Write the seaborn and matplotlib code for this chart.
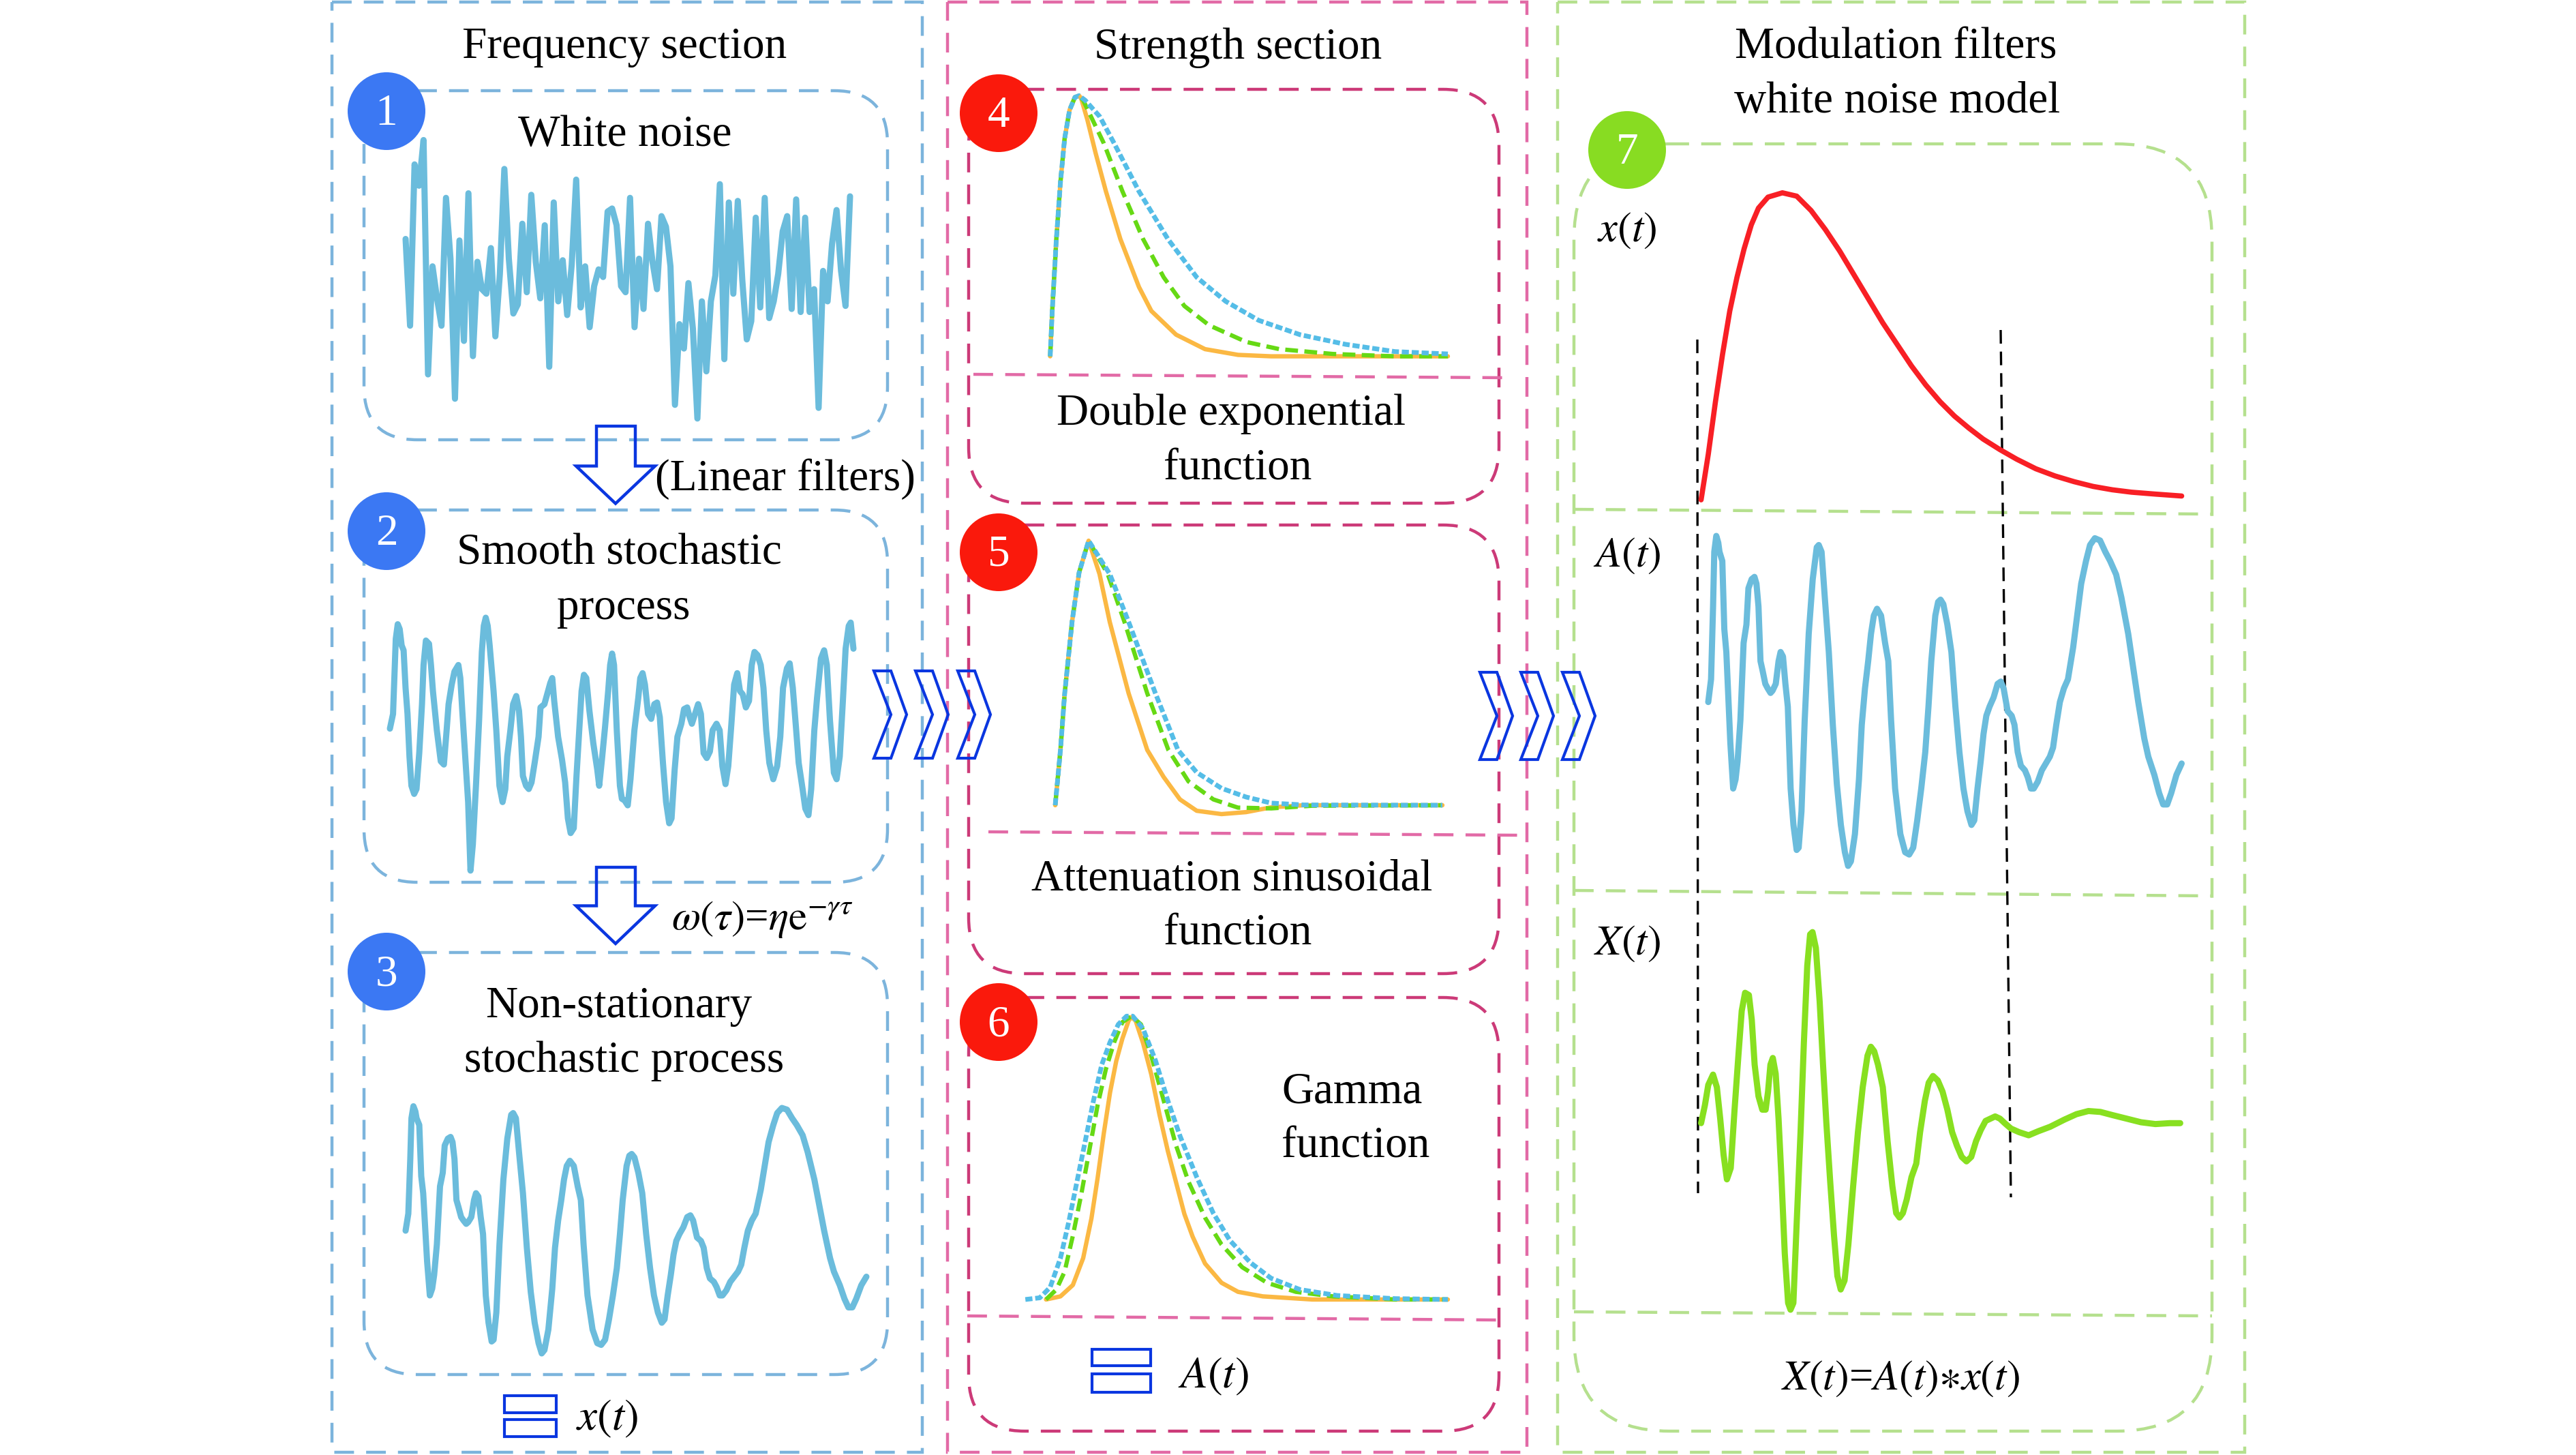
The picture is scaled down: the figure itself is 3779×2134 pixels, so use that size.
import numpy as np
import pandas as pd
import matplotlib
matplotlib.use("Agg")
import matplotlib.pyplot as plt
import seaborn as sns
from matplotlib.patches import FancyBboxPatch, Rectangle, Circle, Polygon

W, H = 3780, 2134

# ---------------- data ----------------
# 1: white noise, evenly spaced samples
white_noise = [1.15, -1.70, 3.60, 2.90, 4.40, -3.30, 0.25, -0.80, -1.70, 2.50,
               0.50, -4.10, 1.10, -2.20, 2.65, -2.70, 0.40, -0.50, -0.65, 0.85,
               -2.05, 0.00, 3.45, 0.50, -1.30, -1.00, 1.65, -0.60, 2.60, 0.40,
               -0.80, 1.60, -3.05, 2.35, -0.90, 0.45, -1.35, 0.30, 3.10, -1.10,
               0.25, -1.75, -0.40, 0.15, -0.10, 2.05, 2.15, 1.60, -0.40, -0.60,
               2.50, -1.75, 0.50, -1.15, 1.65, 0.40, -0.50, 1.90, 1.55, 0.25,
               -4.30, -1.65, -2.45, -0.30, -1.80, -4.75, -0.90, -3.20, -0.90, -0.05,
               2.95, -2.80, 2.35, -0.65, 2.40, -0.20, -2.15, -1.55, 1.85, -1.10,
               2.50, -1.45, -0.90, 0.00, 1.40, 1.90, -1.15, 2.45, -1.25, 1.85,
               -1.25, -0.50, -4.40, 0.10, -0.90, 1.00, 2.10, 0.10, -1.05, 2.55]

# 2: smooth stochastic process (t, value)
smooth_pts = [(0, 2.5), (8, 7), (12, 20), (15, 30), (20, 34.5), (25, 33), (30, 28), (35, 26.5), (40, 15),
              (45, 7), (50, -6), (55, -15), (62, -17.5), (68, -16), (75, -5), (82, 10), (86, 22), (92, 29.5),
              (100, 28.5), (105, 22), (110, 14), (120, 2), (130, -7.5), (138, -8.5), (145, 2), (150, 10),
              (158, 16), (165, 20), (175, 22), (180, 18), (185, 8), (192, -5), (200, -20), (206, -41),
              (212, -33), (220, -15), (228, 5), (235, 26), (240, 34), (245, 36.5), (250, 34), (255, 28),
              (265, 14), (272, 2), (280, -15), (288, -20), (295, -16), (300, -6), (308, 2), (315, 10),
              (323, 12.5), (330, 8), (335, 0), (340, -12), (348, -15), (355, -16), (362, -14), (370, -8),
              (380, 0), (385, 9), (395, 10), (402, 13), (410, 16.5), (415, 18), (420, 11), (430, 0),
              (440, -7), (448, -14), (455, -25), (462, -29.5), (470, -28), (477, -12), (485, 4), (490, 14),
              (496, 19), (502, 18), (510, 8), (520, -2), (530, -10), (535, -15), (542, -7), (550, 3),
              (558, 14), (563, 22), (568, 25.5), (573, 22), (580, 2), (588, -15), (593, -19), (600, -19.5),
              (608, -21), (615, -13), (625, 2), (635, 12), (640, 18), (646, 19.5), (652, 16), (660, 7),
              (668, 5.5), (676, 10), (683, 10.5), (690, 6), (698, -8), (706, -20), (714, -26.5), (720, -25),
              (728, -10), (735, 0), (745, 4), (752, 8.5), (760, 9), (765, 6.5), (772, 4), (780, 7), (788, 10),
              (795, 7), (802, -5), (810, -6.5), (818, -4.5), (825, 2), (835, 4), (843, 2), (850, -9),
              (858, -14.5), (865, -9), (873, 4), (880, 16), (888, 19.5), (895, 14), (902, 13), (910, 9),
              (918, 11), (925, 22), (932, 26), (940, 25), (948, 22), (955, 15), (962, 2), (970, -8),
              (980, -13), (990, -9), (998, 0), (1005, 15), (1015, 21), (1022, 22.5), (1030, 15), (1038, 3),
              (1045, -8), (1055, -16), (1062, -22), (1070, -24), (1077, -16), (1085, 2), (1092, 12),
              (1102, 24), (1110, 26.5), (1117, 22), (1125, 5), (1135, -11), (1142, -13), (1150, -6),
              (1158, 11), (1165, 27), (1173, 34), (1178, 35), (1185, 27)]

# 3: non-stationary stochastic process x(t) (also the A(t) trace in panel 7)
nonstat_pts = [(0, -1), (7, 4), (12, 20), (15, 32), (20, 35.5), (25, 34), (28, 32), (35, 30), (40, 15),
               (45, 10), (50, 0), (55, -10), (62, -20), (68, -18), (73, -14), (80, -5), (88, 12), (95, 16),
               (100, 24), (108, 26), (115, 26.5), (120, 25), (125, 20), (130, 8), (135, 6), (142, 3),
               (148, 2), (155, 1), (160, 1.5), (168, 3), (175, 8), (180, 10), (186, 9), (192, 3), (198, -2),
               (205, -20), (212, -28), (220, -33.5), (225, -33), (232, -25), (240, -5), (250, 14), (260, 26),
               (270, 33), (275, 33.5), (282, 32), (290, 22), (300, 10), (310, -6), (320, -19), (330, -28),
               (340, -34), (348, -37), (355, -36), (365, -30), (375, -18), (382, -6), (390, 2), (398, 8),
               (405, 14), (412, 18), (420, 19.5), (430, 18), (440, 12), (448, 8), (455, -5), (465, -20),
               (478, -30), (490, -34), (500, -34.5), (510, -33), (520, -27), (530, -20), (540, -12),
               (548, -2), (555, 8), (565, 18), (572, 21), (578, 21.5), (585, 20.5), (595, 16), (605, 10),
               (615, -2), (625, -12), (635, -20), (645, -25), (655, -28), (662, -27), (670, -20), (678, -14),
               (685, -8), (692, -4), (700, -2), (710, 0), (720, 3), (728, 3.5), (735, 2), (745, -3),
               (755, -4), (762, -6), (770, -12), (778, -15), (788, -16), (795, -17.5), (803, -20), (810, -20),
               (820, -18.5), (830, -16), (840, -14.5), (850, -13), (858, -11), (866, -6), (875, -1), (885, 2),
               (895, 4), (908, 11), (918, 18), (928, 25), (940, 30), (950, 33.5), (962, 35), (975, 34.5),
               (988, 32), (1000, 30), (1015, 27), (1028, 22), (1045, 14), (1060, 5), (1070, -1), (1085, -9),
               (1095, -13), (1110, -17), (1122, -21), (1132, -23.5), (1142, -23.5), (1152, -21), (1165, -17),
               (1178, -14.5)]

# 4: double exponential function (percent of peak)
dexp_rise = [(0, 0), (5, 17.4), (15, 45), (25, 67), (35, 83.5), (47, 94.5), (60, 99.4), (70, 100)]
dexp_orange = dexp_rise + [(75, 99), (90, 90.8), (110, 78), (135, 63.3), (170, 45), (215, 26.6), (245, 17.4),
                           (305, 8.3), (375, 2.75), (455, 0.55), (535, 0), (963, 0)]
dexp_green = dexp_rise + [(80, 98.2), (130, 81.7), (175, 63.3), (225, 45), (275, 30.3), (325, 19.3),
                          (385, 11.9), (475, 5.5), (555, 2.75), (685, 0.9), (835, 0), (963, 0)]
dexp_blue = dexp_rise + [(85, 98.2), (120, 92), (155, 81.7), (215, 63.3), (285, 45), (355, 30.3),
                         (425, 21.1), (505, 13.8), (605, 8.3), (715, 4.6), (835, 1.8), (963, 0.9)]

# 5: attenuation sinusoidal function
asin_rise = [(0, 0), (7.7, 20.9), (13.8, 42), (24.7, 69.3), (35, 87.9), (49, 100)]
asin_orange = asin_rise + [(65, 87.4), (80, 69.3), (107.7, 42.3), (135, 20.9), (159, 10.7), (183, 2.2),
                           (207.6, -2.1), (244, -3.35), (280, -2.6), (317, -0.8), (365, 0), (568, 0)]
asin_green = asin_rise + [(77, 87.4), (101.6, 69.3), (135, 42.3), (166, 20.9), (195.5, 9), (232, 2.2),
                          (268, -0.9), (317, -1.2), (377, -0.2), (568, 0)]
asin_blue = asin_rise + [(80, 87.4), (107.7, 69.3), (147, 42.3), (180, 20.9), (207.6, 12.4), (244, 6.4),
                         (280, 3.1), (317, 0.8), (365, 0.1), (568, 0)]

# 6: gamma function
gam_orange = [(50, 0), (85, 1.1), (115, 5.1), (140, 14.6), (160, 28.6), (175, 42.9), (190, 58.7), (205, 73),
              (220, 84.1), (235, 92.1), (250, 98.4), (257, 99.7), (267, 98.4), (285, 90.5), (305, 79.4),
              (325, 65.1), (345, 52.4), (365, 41.3), (385, 30.2), (405, 22.2), (435, 12.7), (475, 5.9),
              (515, 2.7), (575, 1.1), (695, 0), (1023, 0)]
gam_green = [(50, 0), (75, 3.5), (95, 9.8), (115, 22.5), (135, 36.8), (155, 52.7), (175, 68.6), (195, 81.3),
             (215, 90.8), (235, 97.9), (257, 100), (280, 97.1), (305, 85.9), (335, 70.2), (365, 54.3),
             (395, 41.6), (435, 28.9), (475, 19.4), (525, 11.4), (585, 5.9), (655, 2.7), (745, 1.1),
             (895, 0), (1023, 0)]
gam_blue = [(0, 0), (35, 0.6), (60, 4.3), (85, 14.6), (105, 27.3), (125, 41.6), (145, 55.9), (165, 70.2),
            (185, 82.9), (205, 90.8), (225, 97.1), (245, 100), (260, 100), (285, 95.6), (315, 84.4),
            (345, 70.2), (375, 57.5), (415, 43.2), (455, 30.5), (495, 20.9), (545, 13), (595, 7.5),
            (665, 3.5), (755, 1.4), (895, 0.3), (1023, 0)]

# 7: modulation model, x(t) envelope and X(t)
envelope_pts = [(0, 0.5), (15, 10), (30, 21), (45, 31), (60, 40), (75, 47), (90, 53), (105, 58), (120, 61.5),
                (140, 63.8), (170, 64.7), (200, 64), (230, 61), (260, 57), (290, 52.5), (320, 47.5),
                (350, 42.5), (380, 37.5), (410, 33), (440, 28.5), (470, 24.5), (500, 21), (530, 18),
                (560, 15.5), (590, 13.2), (625, 11), (660, 9), (700, 7), (740, 5.5), (780, 4.3), (820, 3.3),
                (860, 2.6), (900, 2.1), (950, 1.7), (1005, 1.3)]
modulated_pts = [(0, 0), (8, 4), (15, 8.5), (25, 10.8), (33, 8), (40, 1), (47, -7), (54, -12.5), (62, -10),
                 (70, 3), (78, 15), (85, 25), (92, 29), (100, 28.5), (106, 23), (112, 13), (120, 6), (128, 3),
                 (135, 3), (140, 7), (145, 13), (150, 14.5), (156, 11), (162, 1), (168, -12), (175, -29),
                 (182, -40), (187, -41.5), (193, -40), (200, -22), (208, -2), (215, 18), (222, 35), (228, 42),
                 (233, 42.5), (240, 39), (248, 27), (255, 13), (262, 0), (270, -13), (278, -25), (285, -34),
                 (292, -37), (300, -35), (308, -27), (318, -14), (328, -2), (338, 8), (348, 15), (355, 17),
                 (362, 16), (370, 13), (380, 8), (390, -4), (400, -14), (408, -20), (415, -21), (422, -20),
                 (430, -17), (440, -12), (450, -9), (458, -2), (468, 5), (476, 9), (485, 10.5), (495, 9.5),
                 (505, 7), (515, 3), (525, -2), (535, -5), (545, -7.5), (555, -8.5), (565, -7.5), (575, -4),
                 (585, -1.5), (595, 0.5), (605, 1), (615, 1.5), (625, 1), (635, 0), (648, -1.2), (665, -2),
                 (685, -2.7), (705, -1.8), (730, -0.8), (760, 0.8), (785, 2), (810, 2.7), (835, 2.5),
                 (860, 1.8), (890, 1), (920, 0.2), (950, -0.2), (980, 0), (1002, 0)]

# ---------------- style ----------------
sns.set_style("white")
plt.rcParams["font.family"] = ["Liberation Serif", "DejaVu Serif"]
plt.rcParams["mathtext.fontset"] = "stix"

BLUE_BOX = "#7cb4dc"
PINK_OUT = "#e26aa6"
PINK_IN = "#cc3a78"
GREEN_BOX = "#b5e08e"
SIG_BLUE = "#6bbcdc"
NAVY = "#0a36e0"
ORANGE = "#fbb843"
LGREEN = "#66d914"
LBLUE = "#55bde7"
BOX_DASH = (0, (6.5, 4))
FS = 47

fig = plt.figure(figsize=(W / 100, H / 100), dpi=100)
fig.patch.set_facecolor("white")

bg = fig.add_axes([0, 0, 1, 1])
bg.set_xlim(0, W)
bg.set_ylim(H, 0)
bg.set_axis_off()


def rbox(ax, x0, y0, x1, y1, r, color):
    ax.add_patch(FancyBboxPatch((x0, y0), x1 - x0, y1 - y0,
                                boxstyle=f"round,pad=0,rounding_size={r}",
                                fill=False, edgecolor=color, linewidth=3.2, linestyle=BOX_DASH))


def hline(ax, x0, y0, x1, y1, color):
    ax.plot([x0, x1], [y0, y1], color=color, linewidth=3.2, linestyle=BOX_DASH)


# outer section boxes
for x0, x1, col in [(487, 1353, BLUE_BOX), (1390, 2240, PINK_OUT), (2285, 3293, GREEN_BOX)]:
    bg.add_patch(Rectangle((x0, 3), x1 - x0, 2127, fill=False, edgecolor=col,
                           linewidth=3.2, linestyle=BOX_DASH))

# frequency section inner boxes
rbox(bg, 534, 133, 1302, 645, 78, BLUE_BOX)
rbox(bg, 534, 748, 1302, 1294, 78, BLUE_BOX)
rbox(bg, 534, 1397, 1302, 2016, 78, BLUE_BOX)

# strength section inner boxes
rbox(bg, 1421, 131, 2199, 738, 82, PINK_IN)
hline(bg, 1428, 549, 2210, 554, PINK_OUT)
rbox(bg, 1421, 770, 2199, 1428, 82, PINK_IN)
hline(bg, 1450, 1220, 2231, 1225, PINK_OUT)
rbox(bg, 1421, 1463, 2199, 2099, 82, PINK_IN)
hline(bg, 1419, 1930, 2198, 1936, PINK_OUT)

# modulation section box
rbox(bg, 2309, 211, 3245, 2099, 140, GREEN_BOX)
hline(bg, 2309, 747, 3245, 754, GREEN_BOX)
hline(bg, 2309, 1306, 3245, 1314, GREEN_BOX)
hline(bg, 2309, 1924, 3245, 1930, GREEN_BOX)

# black dashed guides
bg.plot([2490, 2491], [498, 1750], color="black", linewidth=2.4, linestyle=(0, (6, 3.5)))
bg.plot([2935, 2950], [484, 1756], color="black", linewidth=2.4, linestyle=(0, (6, 3.5)))


def curve_ax(x0, x1, y_top, y_bot, xlim, ylim):
    ax = fig.add_axes([x0 / W, 1 - y_bot / H, (x1 - x0) / W, (y_bot - y_top) / H])
    ax.set_xlim(*xlim)
    ax.set_ylim(*ylim)
    ax.set_axis_off()
    ax.patch.set_alpha(0)
    return ax


def draw(ax, pts, color, lw, ls="-"):
    df = pd.DataFrame(pts, columns=["t", "v"])
    sns.lineplot(data=df, x="t", y="v", ax=ax, color=color, linewidth=lw, linestyle=ls,
                 estimator=None, sort=False, clip_on=False, solid_joinstyle="round",
                 solid_capstyle="round")


GREEN_DASH = (0, (3.0, 1.5))
BLUE_DASH = (0, (1.5, 0.6))

# 1 white noise
ax1 = curve_ax(595, 1247, 178.6, 625, (0, len(white_noise) - 1), (-5, 5))
draw(ax1, list(zip(range(len(white_noise)), white_noise)), SIG_BLUE, 6.5)

# 2 smooth stochastic process
ax2 = curve_ax(572, 1252, 889.2, 1296, (0, 1185), (-45, 40))
draw(ax2, smooth_pts, SIG_BLUE, 6.5)

# 3 non-stationary process
ax3 = curve_ax(595, 1271, 1575, 2025, (0, 1178), (-45, 45))
draw(ax3, nonstat_pts, SIG_BLUE, 6.5)

# 4 double exponential
ax4 = curve_ax(1540.6, 2124, 121.2, 541.7, (0, 963), (-5, 105))
draw(ax4, dexp_orange, ORANGE, 4.6)
draw(ax4, dexp_green, LGREEN, 4.5, GREEN_DASH)
draw(ax4, dexp_blue, LBLUE, 5, BLUE_DASH)

# 5 attenuation sinusoidal
ax5 = curve_ax(1548, 2116, 773.6, 1219.8, (0, 568), (-10, 105))
draw(ax5, asin_orange, ORANGE, 4.6)
draw(ax5, asin_green, LGREEN, 4.5, GREEN_DASH)
draw(ax5, asin_blue, LBLUE, 5, BLUE_DASH)

# 6 gamma
ax6 = curve_ax(1504.2, 2124, 1469.6, 1926.7, (0, 1023), (-5, 105))
draw(ax6, gam_orange, ORANGE, 4.6)
draw(ax6, gam_green, LGREEN, 4.5, GREEN_DASH)
draw(ax6, gam_blue, LBLUE, 5, BLUE_DASH)

# 7 modulation
ax7a = curve_ax(2495.5, 3200.5, 245.6, 736.6, (0, 1005), (0, 70))
draw(ax7a, envelope_pts, "#f81f25", 5.5)
ax7b = curve_ax(2506, 3200.5, 722.6, 1323.4, (0, 1178), (-45, 45))
draw(ax7b, nonstat_pts, SIG_BLUE, 6.5)
ax7c = curve_ax(2495.5, 3198.4, 1350.6, 1944, (0, 1002), (-45, 45))
draw(ax7c, modulated_pts, "#88e020", 6.5)

# ---------------- foreground: badges, arrows, text ----------------
fg = fig.add_axes([0, 0, 1, 1])
fg.set_xlim(0, W)
fg.set_ylim(H, 0)
fg.set_axis_off()
fg.patch.set_alpha(0)

badges = [(567, 163, "1", "#3b78f3"), (567, 779, "2", "#3b78f3"), (567, 1425, "3", "#3b78f3"),
          (1465, 166, "4", "#fa190c"), (1465, 810, "5", "#fa190c"), (1465, 1499, "6", "#fa190c"),
          (2387, 220, "7", "#88dc22")]
for cx, cy, lab, col in badges:
    fg.add_patch(Circle((cx, cy), 57, facecolor=col, edgecolor="none"))
    fg.text(cx, cy + 20, lab, color="white", fontsize=FS, ha="center", va="baseline")

# down arrows
for top, sh, tip in [(625, 683.5, 738.5), (1272, 1328.5, 1384)]:
    fg.add_patch(Polygon([(875, top), (932, top), (932, sh), (961, sh), (903, tip), (845, sh), (875, sh)],
                         closed=True, fill=False, edgecolor=NAVY, linewidth=3.2, joinstyle="miter"))

# chevrons
for x0, ytop in [(1282, 984), (1343, 984), (1405, 984), (2171, 986), (2231, 986), (2292, 986)]:
    ym, yb = ytop + 64, ytop + 128
    fg.add_patch(Polygon([(x0, ytop), (x0 + 25, ytop), (x0 + 48, ym), (x0 + 25, yb), (x0, yb), (x0 + 25, ym)],
                         closed=True, fill=False, edgecolor=NAVY, linewidth=3, joinstyle="miter"))

# small stacked-bar icons
for x0, x1, r1, r2 in [(740, 816, (2047, 2072), (2082, 2107)), (1602, 1688, (1979, 2003), (2015, 2042))]:
    for ya, yb in (r1, r2):
        fg.add_patch(Rectangle((x0, ya), x1 - x0, yb - ya, fill=False, edgecolor=NAVY, linewidth=3))

texts = [
    (916, 85, "Frequency section", "center"),
    (917, 214, "White noise", "center"),
    (1152, 719, "(Linear filters)", "center"),
    (908, 828, "Smooth stochastic", "center"),
    (915, 908, "process", "center"),
    (908, 1492, "Non-stationary", "center"),
    (916, 1572, "stochastic process", "center"),
    (1816, 86, "Strength section", "center"),
    (1806, 623, "Double exponential", "center"),
    (1816, 703, "function", "center"),
    (1807, 1306, "Attenuation sinusoidal", "center"),
    (1816, 1385, "function", "center"),
    (1880, 1618, "Gamma", "left"),
    (1880, 1697, "function", "left"),
    (2781, 86, "Modulation filters", "center"),
    (2783, 165, "white noise model", "center"),
]
for x, y, s, ha in texts:
    fg.text(x, y, s, fontsize=FS, ha=ha, va="baseline", color="black")

math_texts = [
    (985, 1363, r"$\omega(\tau)$=$\eta\mathrm{e}^{-\gamma\tau}$", "left", 44),
    (845, 2097, r"$x(t)$", "left", FS),
    (1728, 2035, r"$A(t)$", "left", FS),
    (2387, 354, r"$x(t)$", "center", 45),
    (2387, 831, r"$A(t)$", "center", 45),
    (2387, 1400, r"$X(t)$", "center", 45),
    (2788, 2038, r"$X(t)$=$A(t){\ast}x(t)$", "center", 45),
]
for x, y, s, ha, fs in math_texts:
    fg.text(x, y, s, fontsize=fs, ha=ha, va="baseline", color="black")

fig.savefig("out.png", dpi=100, facecolor="white")
